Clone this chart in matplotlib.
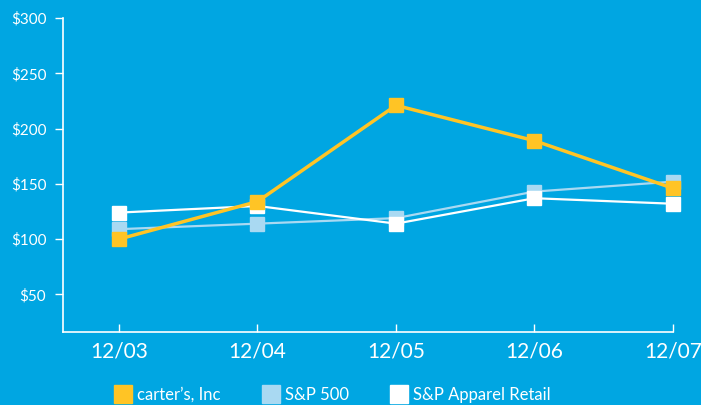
import matplotlib
matplotlib.use("Agg")
import matplotlib.pyplot as plt
from matplotlib.lines import Line2D

plt.rcParams['font.family'] = ['Lato', 'DejaVu Sans']

years = ["12/03", "12/04", "12/05", "12/06", "12/07"]
carters = [100, 134, 221, 189, 146]
sp500 = [109, 114, 119, 143, 152]
apparel = [124, 130, 114, 137, 132]

bg = "#00A6E2"
yellow = "#FFC425"
lightblue = "#A9D9F2"
white = "#FFFFFF"

fig = plt.figure(figsize=(7.01, 4.05), dpi=100, facecolor=bg)
ax = fig.add_axes([63 / 701, 73 / 405, 610 / 701, 314 / 405])
ax.set_facecolor(bg)

x = list(range(len(years)))
ax.plot(x, sp500, color=lightblue, lw=1.6, marker='s', ms=9.5, zorder=2, clip_on=False)
ax.plot(x, apparel, color=white, lw=1.6, marker='s', ms=9.5, zorder=3, clip_on=False)
ax.plot(x, carters, color=yellow, lw=2.5, marker='s', ms=9.5, zorder=4, clip_on=False)

ax.set_xlim(-0.404, 4)
ax.set_ylim(16, 300)
ax.set_xticks(x)
ax.set_xticklabels(years)
ax.set_yticks([50, 100, 150, 200, 250, 300])
ax.set_yticklabels([f"${v}" for v in [50, 100, 150, 200, 250, 300]])

for s in ["top", "right"]:
    ax.spines[s].set_visible(False)
for s in ["left", "bottom"]:
    ax.spines[s].set_color(white)
    ax.spines[s].set_linewidth(1.2)

ax.tick_params(axis='y', colors=white, direction='out', length=6, width=1,
               labelsize=11, pad=6)
ax.tick_params(axis='x', colors=white, direction='in', length=6, width=1,
               labelsize=15, pad=7)

handles = [
    Line2D([], [], color=yellow, marker='s', ls='none', ms=12.5),
    Line2D([], [], color=lightblue, marker='s', ls='none', ms=12.5),
    Line2D([], [], color=white, marker='s', ls='none', ms=12.5),
]
fig.legend(handles, ["carter\u2019s, Inc", "S&P 500", "S&P Apparel Retail"],
           loc='lower left', bbox_to_anchor=(98 / 701, -0.032), ncol=3,
           frameon=False, fontsize=12, labelcolor=white,
           handletextpad=0.25, columnspacing=2.4, handlelength=1.2)

fig.savefig("out.png", dpi=100, facecolor=bg)
